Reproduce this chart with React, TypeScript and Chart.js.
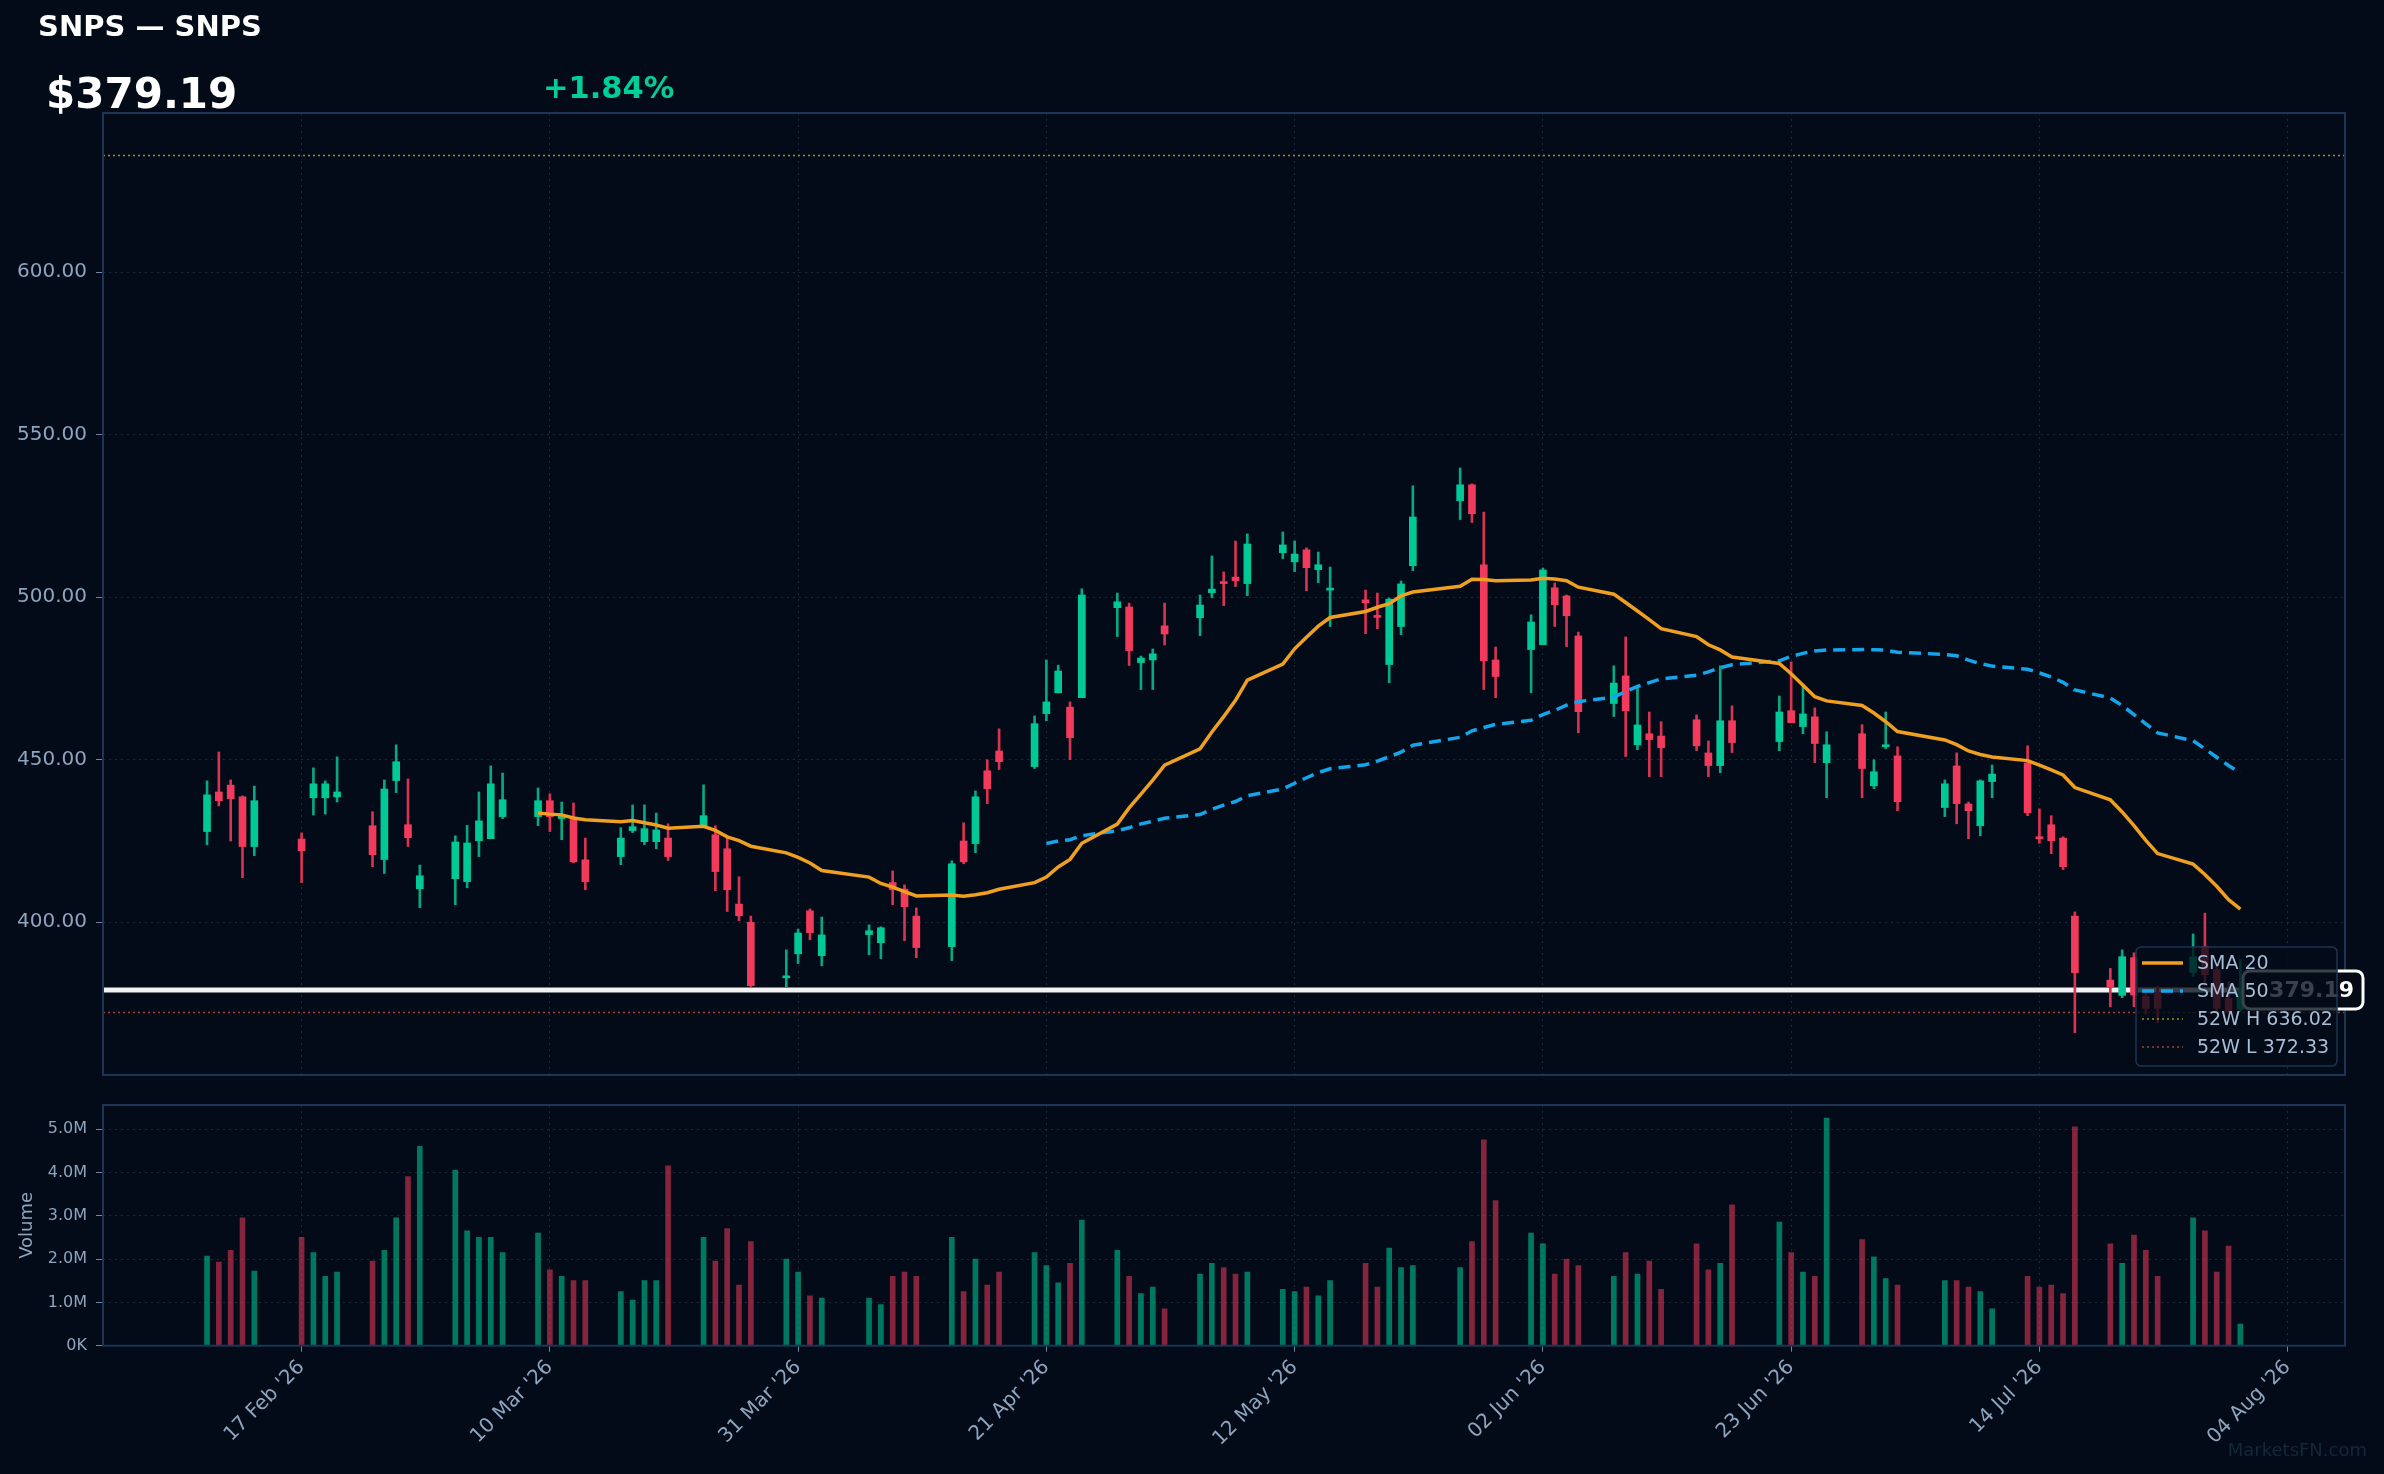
import React, { useEffect, useRef } from 'react';
import { Chart, registerables } from 'chart.js';

Chart.register(...registerables);

// ---------------- DATA ----------------
const YEAR = 2026;
const symbolTitle = 'SNPS — SNPS';
const lastPriceText = '$379.19';
const changeText = '+1.84%';
const high52 = 636.02;
const low52 = 372.33;

const dates = [
  '02-09','02-10','02-11','02-12','02-13','02-17','02-18','02-19','02-20','02-23','02-24','02-25','02-26','02-27',
  '03-02','03-03','03-04','03-05','03-06','03-09','03-10','03-11','03-12','03-13','03-16','03-17','03-18','03-19','03-20',
  '03-23','03-24','03-25','03-26','03-27','03-30','03-31',
  '04-01','04-02','04-06','04-07','04-08','04-09','04-10','04-13','04-14','04-15','04-16','04-17','04-20','04-21','04-22','04-23','04-24',
  '04-27','04-28','04-29','04-30',
  '05-01','05-04','05-05','05-06','05-07','05-08','05-11','05-12','05-13','05-14','05-15','05-18','05-19','05-20','05-21','05-22',
  '05-26','05-27','05-28','05-29',
  '06-01','06-02','06-03','06-04','06-05','06-08','06-09','06-10','06-11','06-12','06-15','06-16','06-17','06-18',
  '06-22','06-23','06-24','06-25','06-26','06-29','06-30',
  '07-01','07-02','07-06','07-07','07-08','07-09','07-10','07-13','07-14','07-15','07-16','07-17','07-20','07-21','07-22','07-23','07-24',
  '07-27','07-28','07-29','07-30','07-31'
];

const opens = [
  427.9,440.1,442.2,438.6,423.3,425.6,438.3,438.3,438.6,429.7,419.3,443.6,430.0,410.3,
  413.4,412.5,425.1,425.7,432.5,432.5,437.4,431.9,431.6,419.2,420.2,428.2,424.8,424.8,425.9,
  429.7,426.9,422.6,405.6,400.0,382.9,390.3,
  403.5,389.7,396.2,393.7,412.2,410.2,401.9,392.5,425.0,424.2,446.6,452.7,447.9,464.2,470.6,466.2,469.1,
  496.8,497.0,479.9,480.7,
  491.2,493.7,501.4,504.7,506.2,504.2,513.7,510.9,514.6,508.5,502.2,499.2,494.3,479.3,491.0,509.7,
  529.7,534.6,510.0,480.7,
  483.9,485.4,502.9,500.4,488.1,467.3,475.8,454.6,458.0,457.3,462.3,452.1,448.2,462.0,
  455.6,465.1,460.2,463.2,449.1,458.0,442.0,
  454.0,451.2,435.3,448.1,436.4,429.7,443.3,449.0,426.3,430.0,425.9,401.9,382.2,377.5,389.1,377.3,378.3,
  384.5,392.5,385.4,376.6,373.2
];

const highs = [
  443.5,452.4,443.8,438.9,441.9,427.5,447.5,443.5,450.9,434.0,443.8,454.6,444.1,417.6,
  426.6,429.8,440.1,448.1,445.9,441.3,439.5,437.0,436.7,425.9,429.1,436.1,436.1,433.6,430.3,
  442.3,429.7,426.3,414.0,401.9,391.5,397.9,
  404.1,401.6,399.2,398.6,415.8,411.5,404.4,418.9,430.6,440.4,450.0,459.5,463.5,480.7,479.1,467.8,502.6,
  501.3,498.2,481.9,484.1,
  498.2,500.7,512.7,507.8,517.3,519.5,520.1,517.3,515.2,513.9,509.3,502.2,501.3,499.8,505.0,534.3,
  539.8,534.9,526.2,484.7,
  494.6,509.0,504.4,500.7,489.3,478.9,487.8,472.7,464.7,461.7,463.8,455.8,478.9,466.6,
  469.6,480.1,472.7,466.0,458.6,460.8,450.0,
  464.7,454.0,443.8,452.1,437.0,443.8,448.4,454.3,434.9,432.8,426.3,403.2,385.8,391.5,390.6,378.1,380.4,
  396.4,402.8,386.5,381.7,388.5
];

const lows = [
  423.8,435.8,425.0,413.7,420.5,412.2,433.0,433.3,437.0,417.1,415.0,439.9,423.3,404.5,
  405.4,410.6,420.2,425.7,431.9,429.7,427.9,425.4,418.3,410.0,417.7,427.6,423.9,422.6,419.0,
  429.7,409.7,403.3,400.5,380.2,380.0,387.3,
  394.6,386.6,390.0,388.8,405.4,394.3,389.1,388.2,418.0,421.4,436.5,447.0,447.3,462.0,470.6,450.0,469.1,
  487.9,479.0,471.6,471.6,
  485.3,488.2,499.9,497.4,503.3,500.5,511.9,507.9,502.0,504.5,491.0,488.8,490.3,473.7,488.5,508.2,
  523.9,523.0,471.6,469.1,
  470.6,485.4,491.0,484.8,458.3,463.3,451.0,453.1,444.8,444.8,452.8,444.8,446.0,452.2,
  452.8,461.4,458.0,449.1,438.3,438.3,441.1,
  453.4,434.3,432.5,430.3,425.7,426.6,438.3,432.8,424.3,421.1,416.2,366.0,374.0,376.8,374.0,371.7,369.1,
  383.3,380.7,372.8,372.0,372.5
];

const closes = [
  439.2,437.4,438.0,423.3,437.4,422.0,442.6,442.6,440.1,420.8,441.0,449.4,426.0,414.3,
  424.7,424.4,431.2,442.6,437.7,437.4,432.5,432.8,418.6,412.5,425.9,429.4,428.8,428.4,420.2,
  432.8,415.6,410.0,402.0,380.5,383.5,396.7,
  396.8,396.1,397.4,398.3,410.0,404.8,392.2,418.0,418.6,438.6,441.1,449.4,461.1,467.8,477.3,456.8,500.7,
  498.6,483.6,481.3,482.6,
  488.7,497.6,502.5,504.2,505.1,516.4,516.1,513.3,509.1,510.0,502.6,498.3,493.8,499.4,504.1,524.7,
  534.6,525.7,480.5,475.6,
  492.4,508.4,497.7,494.3,464.8,473.6,465.1,460.7,456.2,453.7,454.3,448.2,462.0,455.3,
  464.7,461.4,464.1,455.0,454.6,447.3,446.3,
  454.6,437.1,442.6,436.5,434.3,443.5,445.6,433.7,425.7,425.1,417.1,384.5,380.2,389.4,377.6,373.5,373.5,
  389.4,383.8,373.5,372.34,379.19
];

// volume in millions
const volumesM = [
  2.07,1.93,2.2,2.95,1.72, 2.5,2.15,1.6,1.7, 1.95,2.2,2.95,3.9,4.6,
  4.05,2.65,2.5,2.5,2.15, 2.6,1.75,1.6,1.5,1.5, 1.25,1.05,1.5,1.5,4.15,
  2.5,1.95,2.7,1.4,2.4, 2.0,1.7,1.15,1.1,
  1.1,0.95,1.6,1.7,1.6, 2.5,1.25,2.0,1.4,1.7, 2.15,1.85,1.45,1.9,2.9,
  2.2,1.6,1.2,1.35,0.85, 1.65,1.9,1.8,1.65,1.7, 1.3,1.25,1.35,1.15,1.5,
  1.9,1.35,2.25,1.8,1.85, 1.8,2.4,4.75,3.35,
  2.6,2.35,1.65,2.0,1.85, 1.6,2.15,1.65,1.95,1.3, 2.35,1.75,1.9,3.25,
  2.85,2.15,1.7,1.6,5.25, 2.45,2.05,1.55,1.4,
  1.5,1.5,1.35,1.25,0.85, 1.6,1.35,1.4,1.2,5.05, 2.35,1.9,2.55,2.2,1.6,
  2.95,2.65,1.7,2.3,0.5
];

const xTickDates = ['02-17','03-10','03-31','04-21','05-12','06-02','06-23','07-14','08-04'];
const xTickLabels = ["17 Feb '26","10 Mar '26","31 Mar '26","21 Apr '26","12 May '26","02 Jun '26","23 Jun '26","14 Jul '26","04 Aug '26"];
const priceTicks = [400, 450, 500, 550, 600];
const volumeTicksM = [0, 1, 2, 3, 4, 5];
const volumeTickLabels = ['0K', '1.0M', '2.0M', '3.0M', '4.0M', '5.0M'];

// ---------------- STYLE ----------------
const FONT = "'DejaVu Sans', sans-serif";
const BG = '#020b17';
const GRID = 'rgba(48,72,104,0.5)';
const BORDER = '#1c3555';
const LABEL = '#8ea4bf';
const TICKC = '#7287a3';
const GREEN = '#00c897';
const RED = '#f23b5c';
const WICK_G = '#08a883';
const WICK_R = '#d93352';
const VOL_G = 'rgba(0,200,151,0.58)';
const VOL_R = 'rgba(242,59,92,0.55)';
const ORANGE = '#f0a020';
const BLUE = '#14a5eb';
const HI_COL = '#9a9322';
const LO_COL = '#a0462f';

const BASE = Date.UTC(YEAR, 1, 9);
const dayNum = (md: string) => {
  const [m, d] = md.split('-').map(Number);
  return (Date.UTC(YEAR, m - 1, d) - BASE) / 86400000;
};

function sma(values: number[], n: number) {
  return values.map((_, i) => {
    if (i < n - 1) return null;
    let s = 0;
    for (let k = i - n + 1; k <= i; k++) s += values[k];
    return s / n;
  });
}

const X_MIN = -8.8;
const X_MAX = 180.85;

const PRICE_H = 1105;   // price canvas height
const VOL_TOP = 1080;   // volume canvas top
const VOL_H = 394;      // volume canvas height

export default function App() {
  const priceRef = useRef<HTMLCanvasElement>(null);
  const volRef = useRef<HTMLCanvasElement>(null);

  useEffect(() => {
    const xs = dates.map(dayNum);
    const up = closes.map((c, i) => c >= opens[i]);
    const sma20 = sma(closes, 20);
    const sma50 = sma(closes, 50);
    const tickXs = xTickDates.map(dayNum);
    const lastClose = closes[closes.length - 1];

    const xLabelFor = (v: number) => {
      const i = tickXs.findIndex((t) => Math.abs(t - v) < 1e-6);
      return i >= 0 ? xTickLabels[i] : '';
    };

    const overlayPlugin = {
      id: 'overlay',
      beforeDatasetsDraw(chart: any) {
        const { ctx, chartArea: ca, scales } = chart;
        const y = scales.y;
        ctx.save();
        ctx.lineWidth = 1.5;
        ctx.setLineDash([2, 3]);
        ctx.strokeStyle = HI_COL;
        let py = Math.round(y.getPixelForValue(high52)) + 0.5;
        ctx.beginPath(); ctx.moveTo(ca.left, py); ctx.lineTo(ca.right, py); ctx.stroke();
        ctx.strokeStyle = LO_COL;
        py = Math.round(y.getPixelForValue(low52)) + 0.5;
        ctx.beginPath(); ctx.moveTo(ca.left, py); ctx.lineTo(ca.right, py); ctx.stroke();
        ctx.setLineDash([]);
        ctx.strokeStyle = '#f2f2f2';
        ctx.lineWidth = 5;
        py = y.getPixelForValue(lastClose);
        ctx.beginPath(); ctx.moveTo(ca.left, py); ctx.lineTo(ca.right, py); ctx.stroke();
        ctx.restore();
      },
      afterDraw(chart: any) {
        const { ctx, chartArea: ca, scales } = chart;
        const y = scales.y;
        ctx.save();
        ctx.strokeStyle = BORDER;
        ctx.lineWidth = 2;
        ctx.strokeRect(ca.left, ca.top, ca.right - ca.left, ca.bottom - ca.top);

        // price tag
        const py = y.getPixelForValue(lastClose);
        const bx = ca.right - 102, bw = 120, bh = 38, by = py - bh / 2;
        ctx.beginPath();
        ctx.roundRect(bx, by, bw, bh, 7);
        ctx.fillStyle = '#050b14';
        ctx.fill();
        ctx.lineWidth = 3;
        ctx.strokeStyle = '#ffffff';
        ctx.stroke();
        ctx.fillStyle = '#ffffff';
        ctx.font = `bold 22px ${FONT}`;
        ctx.textAlign = 'right';
        ctx.textBaseline = 'middle';
        ctx.fillText(lastClose.toFixed(2), bx + bw - 9, py + 1);

        // legend
        const lx = ca.right - 209, ly = ca.bottom - 128, lw = 201, lh = 119;
        ctx.beginPath();
        ctx.roundRect(lx, ly, lw, lh, 5);
        ctx.fillStyle = 'rgba(2,11,23,0.78)';
        ctx.fill();
        ctx.lineWidth = 1.5;
        ctx.strokeStyle = BORDER;
        ctx.stroke();
        const items = [
          { label: 'SMA 20', color: ORANGE, width: 3.5, dash: [] as number[] },
          { label: 'SMA 50', color: BLUE, width: 3.5, dash: [12, 7] },
          { label: `52W H ${high52.toFixed(2)}`, color: HI_COL, width: 1.5, dash: [2, 3] },
          { label: `52W L ${low52.toFixed(2)}`, color: LO_COL, width: 1.5, dash: [2, 3] },
        ];
        ctx.font = `19px ${FONT}`;
        ctx.textAlign = 'left';
        ctx.textBaseline = 'middle';
        items.forEach((it, i) => {
          const ry = ly + 16 + i * 28;
          ctx.beginPath();
          ctx.setLineDash(it.dash);
          ctx.strokeStyle = it.color;
          ctx.lineWidth = it.width;
          ctx.moveTo(lx + 6, ry);
          ctx.lineTo(lx + 47, ry);
          ctx.stroke();
          ctx.setLineDash([]);
          ctx.fillStyle = '#a9bdd6';
          ctx.fillText(it.label, lx + 61, ry + 1);
        });

        // header texts
        ctx.textAlign = 'left';
        ctx.textBaseline = 'alphabetic';
        ctx.fillStyle = '#ffffff';
        ctx.font = `bold 29px ${FONT}`;
        ctx.fillText(symbolTitle, 38, 36);
        ctx.font = `bold 42px ${FONT}`;
        ctx.fillText(lastPriceText, 46, 108);
        ctx.fillStyle = '#00cf9a';
        ctx.font = `bold 30.5px ${FONT}`;
        ctx.fillText(changeText, 543, 98);
        ctx.restore();
      },
    };

    const priceChart = new Chart(priceRef.current as HTMLCanvasElement, {
      type: 'bar',
      data: {
        datasets: [
          {
            type: 'bar', label: 'wick',
            data: xs.map((x, i) => ({ x, y: [lows[i], highs[i]] })) as any,
            backgroundColor: up.map((u) => (u ? WICK_G : WICK_R)),
            barThickness: 2, grouped: false, borderWidth: 0, order: 4,
          } as any,
          {
            type: 'bar', label: 'body',
            data: xs.map((x, i) => ({ x, y: [opens[i], closes[i]] })) as any,
            backgroundColor: up.map((u) => (u ? GREEN : RED)),
            barThickness: 7, grouped: false, borderWidth: 0, minBarLength: 2, order: 3,
          } as any,
          {
            type: 'line', label: 'SMA 50',
            data: xs.map((x, i) => ({ x, y: sma50[i] })) as any,
            borderColor: BLUE, borderWidth: 3.5, borderDash: [12, 7], pointRadius: 0,
            tension: 0, order: 2, fill: false,
          } as any,
          {
            type: 'line', label: 'SMA 20',
            data: xs.map((x, i) => ({ x, y: sma20[i] })) as any,
            borderColor: ORANGE, borderWidth: 3.5, pointRadius: 0,
            tension: 0, order: 1, fill: false,
          } as any,
        ],
      },
      options: {
        responsive: false,
        animation: false,
        layout: { padding: { top: 113, right: 39, bottom: PRICE_H - 1075, left: 0 } },
        plugins: { legend: { display: false }, tooltip: { enabled: false } },
        scales: {
          x: {
            type: 'linear', min: X_MIN, max: X_MAX, offset: false,
            grid: { offset: false, color: GRID, lineWidth: 1, drawTicks: false },
            border: { display: false, dash: [2, 4] },
            ticks: { display: false },
            afterBuildTicks: (s: any) => { s.ticks = tickXs.map((v) => ({ value: v })); },
            afterFit: (s: any) => { s.height = 0; },
          },
          y: {
            type: 'linear', min: 353, max: 649,
            grid: { color: GRID, lineWidth: 1, drawTicks: true, tickLength: 7, tickColor: TICKC, tickBorderDash: [] },
            border: { display: false, dash: [2, 4] },
            ticks: {
              color: LABEL, padding: 9, font: { family: FONT, size: 20 },
              callback: (v: any) => Number(v).toFixed(2),
            },
            afterBuildTicks: (s: any) => { s.ticks = priceTicks.map((v) => ({ value: v })); },
            afterFit: (s: any) => { s.width = 103; },
          },
        },
      } as any,
      plugins: [overlayPlugin],
    });

    const volPlugin = {
      id: 'volOverlay',
      afterDraw(chart: any) {
        const { ctx, chartArea: ca } = chart;
        ctx.save();
        ctx.strokeStyle = BORDER;
        ctx.lineWidth = 2;
        ctx.strokeRect(ca.left, ca.top, ca.right - ca.left, ca.bottom - ca.top);
        ctx.translate(27, (ca.top + ca.bottom) / 2);
        ctx.rotate(-Math.PI / 2);
        ctx.fillStyle = LABEL;
        ctx.font = `18px ${FONT}`;
        ctx.textAlign = 'center';
        ctx.textBaseline = 'middle';
        ctx.fillText('Volume', 0, 0);
        ctx.restore();
        ctx.save();
        ctx.fillStyle = '#16273a';
        ctx.font = `18px ${FONT}`;
        ctx.textAlign = 'right';
        ctx.textBaseline = 'alphabetic';
        ctx.fillText('MarketsFN.com', 2367, 1456 - VOL_TOP);
        ctx.restore();
      },
    };

    const volChart = new Chart(volRef.current as HTMLCanvasElement, {
      type: 'bar',
      data: {
        datasets: [
          {
            type: 'bar', label: 'Volume',
            data: xs.map((x, i) => ({ x, y: volumesM[i] * 1e6 })) as any,
            backgroundColor: up.map((u) => (u ? VOL_G : VOL_R)),
            barThickness: 5, grouped: false, borderWidth: 0,
          } as any,
        ],
      },
      options: {
        responsive: false,
        animation: false,
        layout: { padding: { top: 1105 - VOL_TOP, right: 39, bottom: 0, left: 0 } },
        plugins: { legend: { display: false }, tooltip: { enabled: false } },
        scales: {
          x: {
            type: 'linear', min: X_MIN, max: X_MAX, offset: false,
            grid: { offset: false, color: GRID, lineWidth: 1, drawTicks: true, tickLength: 6, tickColor: TICKC, tickBorderDash: [] },
            border: { display: false, dash: [2, 4] },
            ticks: {
              color: LABEL, font: { family: FONT, size: 20 }, maxRotation: 45, minRotation: 45,
              autoSkip: false, padding: 4,
              callback: (v: any) => xLabelFor(Number(v)),
            },
            afterBuildTicks: (s: any) => { s.ticks = tickXs.map((v) => ({ value: v })); },
            afterFit: (s: any) => { s.height = VOL_TOP + VOL_H - 1345.7; },
          },
          y: {
            type: 'linear', min: 0, max: 5.554e6,
            grid: { color: GRID, lineWidth: 1, drawTicks: true, tickLength: 7, tickColor: TICKC, tickBorderDash: [] },
            border: { display: false, dash: [2, 4] },
            ticks: {
              color: LABEL, padding: 9, font: { family: FONT, size: 16 },
              callback: (v: any) => {
                const i = volumeTicksM.findIndex((t) => Math.abs(t * 1e6 - Number(v)) < 1);
                return i >= 0 ? volumeTickLabels[i] : '';
              },
            },
            afterBuildTicks: (s: any) => { s.ticks = volumeTicksM.map((v) => ({ value: v * 1e6 })); },
            afterFit: (s: any) => { s.width = 103; },
          },
        },
      } as any,
      plugins: [volPlugin],
    });

    return () => {
      priceChart.destroy();
      volChart.destroy();
    };
  }, []);

  return (
    <div style={{ position: 'fixed', left: 0, top: 0, width: 2384, height: 1474, background: BG, overflow: 'hidden' }}>
      <canvas ref={priceRef} width={2384} height={PRICE_H}
        style={{ position: 'absolute', left: 0, top: 0, width: 2384, height: PRICE_H }} />
      <canvas ref={volRef} width={2384} height={VOL_H}
        style={{ position: 'absolute', left: 0, top: VOL_TOP, width: 2384, height: VOL_H }} />
    </div>
  );
}
